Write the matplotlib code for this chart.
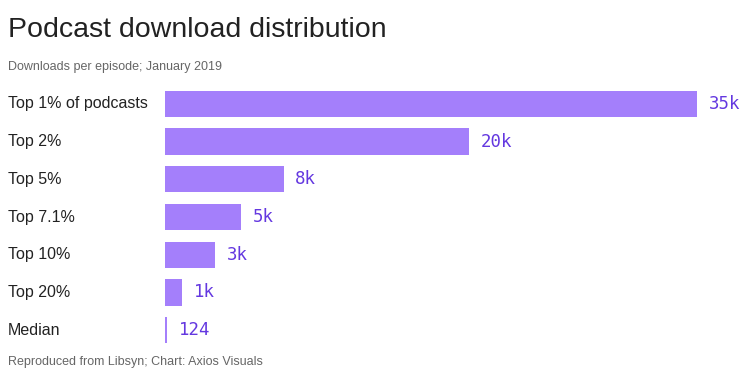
import matplotlib

matplotlib.use("Agg")
import matplotlib.pyplot as plt

# data
categories = ["Top 1% of podcasts", "Top 2%", "Top 5%", "Top 7.1%", "Top 10%", "Top 20%", "Median"]
downloads = [35000, 20000, 7800, 5000, 3300, 1100, 124]
value_labels = ["35k", "20k", "8k", "5k", "3k", "1k", "124"]

BAR = "#a47ffb"
LABEL = "#6438e0"
TEXT = "#222222"
GRAY = "#666666"

plt.rcParams["font.family"] = ["Liberation Sans", "DejaVu Sans"]

fig = plt.figure(figsize=(7.5, 3.77), dpi=100)
ax = fig.add_axes([165 / 750, 1 - 349 / 377, (697 - 165) / 750, (349 - 85) / 377])

ypos = list(range(len(categories)))
ax.barh(ypos, downloads, height=0.7, color=BAR, edgecolor="none")
ax.set_xlim(0, 35000)
ax.set_ylim(len(categories) - 0.5, -0.5)
ax.axis("off")

for y, v, lab in zip(ypos, downloads, value_labels):
    ax.annotate(lab, (v, y), xytext=(8.5, 0), textcoords="offset points",
                ha="left", va="center", family="DejaVu Sans Mono",
                fontsize=12.5, color=LABEL)

for y, cat in zip(ypos, categories):
    ax.annotate(cat, (0, y), xycoords=("figure fraction", "data"),
                xytext=(8 / 750 * 7.5 * 72, 0), textcoords="offset points",
                ha="left", va="center", fontsize=11.5, color=TEXT)

fig.text(8 / 750, 1 - 30 / 377, "Podcast download distribution",
         fontsize=20.5, color=TEXT, va="center", ha="left")
fig.text(8 / 750, 1 - 67 / 377, "Downloads per episode; January 2019",
         fontsize=9, color=GRAY, va="center", ha="left")
fig.text(8 / 750, 1 - 362 / 377, "Reproduced from Libsyn; Chart: Axios Visuals",
         fontsize=9, color=GRAY, va="center", ha="left")

fig.savefig("out.png", dpi=100)
